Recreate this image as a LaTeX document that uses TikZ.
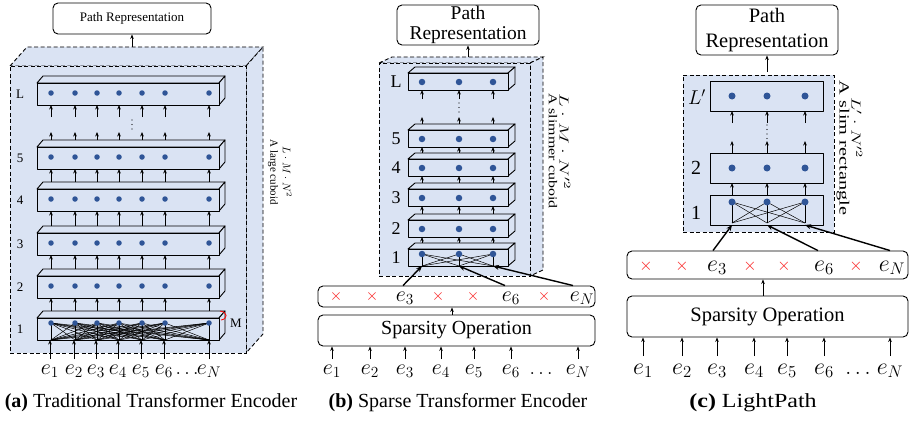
\RequirePackage{fix-cm}
\documentclass[tikz,border=0pt]{standalone}
\usepackage{fontspec}
\setmainfont{Liberation Serif}
\usepackage{graphicx}
\usetikzlibrary{arrows.meta,calc}

\definecolor{bgblue}{RGB}{218,227,243}
\definecolor{dotblue}{RGB}{47,85,151}
\definecolor{xred}{RGB}{250,25,25}

\newcommand{\fsz}[1]{\fontsize{#1}{#1}\selectfont}

% a flat block: front face as a named node, plus its top and side faces
% #1 name, #2 left, #3 top, #4 right, #5 bottom, #6 depth dx, #7 depth dy, #8 style
\newcommand{\slab}[8]{%
  \path[#8] ({#2},{#3}) -- ({#2+#6},{#3-#7}) -- ({#4+#6},{#3-#7}) -- ({#4},{#3}) -- cycle;
  \path[#8] ({#4},{#3}) -- ({#4+#6},{#3-#7}) -- ({#4+#6},{#5-#7}) -- ({#4},{#5}) -- cycle;
  \node[#8, minimum width={(#4-(#2))*1pt}, minimum height={(#5-(#3))*1pt}, anchor=north west] (#1) at ({#2},{#3}) {};
  \coordinate (#1-bk) at ({#2+#6},{#3-#7});
}

\begin{document}
\begin{tikzpicture}[x=1pt,y=-1pt,
  arr/.style={-{Stealth[length=4.5pt,width=3.6pt]}, line width=0.9pt},
  bigarr/.style={-{Stealth[length=6pt,width=5pt]}, line width=1.4pt},
  prbox/.style={draw, rounded corners=5pt, line width=0.9pt, fill=white, inner sep=0pt, align=center},
  hull/.style={draw, dash pattern=on 4pt off 2.5pt, line width=0.9pt, fill=bgblue, inner sep=0pt, outer sep=0pt},
  layer/.style={draw, line width=0.9pt, fill=bgblue, line join=round, inner sep=0pt, outer sep=0pt},
  bead/.style={circle, fill=dotblue, inner sep=0pt, minimum size=#1},
  mesh/.style={line width=0.5pt},
  vdots/.style={line width=1.4pt, line cap=round, dash pattern=on 0pt off 4.5pt},
  elab/.style={anchor=base, inner sep=1pt},
  xm/.style={anchor=base, inner sep=1pt, text=xred},
  note/.style={rotate=-90, inner sep=0pt},
]
\useasboundingbox (0,0) rectangle (912,420);

% ================= (a) traditional encoder =================
\node[prbox, minimum width=158pt, minimum height=31pt, font=\fsz{13}] (aPR) at (132,18.5) {Path Representation};
\slab{aHull}{10}{66}{246}{353}{17}{19}{hull}
\draw[arr] (aPR.south |- aHull-bk) -- (aPR.south);

\foreach \n/\yy in {aL/83,a5/147,a4/189,a3/233,a2/276,a1/318}{
  \slab{\n}{37}{\yy}{219}{\yy+22}{6}{7}{layer}
}
\foreach \n/\yy in {aL/93,a5/157,a4/199,a3/243,a2/286,a1/323}{
  \foreach \x [count=\i] in {51,75,97,119,142,165,209}
    \coordinate (\n-\i) at (\x,\yy);
}
\foreach \lo/\hi in {a1/a2,a2/a3,a3/a4,a4/a5}{
  \foreach \i in {1,...,7}
    \draw[arr] (\lo-\i |- \lo-bk) -- (\lo-\i |- \hi.south);
}
\foreach \i in {1,...,7}{
  \draw[arr] (a5-\i |- a5-bk) -- ++(0,-8);
  \draw[arr] ($(aL-\i |- aL.south)+(0,12)$) -- (aL-\i |- aL.south);
}
\draw[vdots] (132,120) -- (132,131);
\foreach \i in {1,...,7}{
  \foreach \j in {1,...,7}
    \draw[mesh] (a1-\i) -- (a1-\j |- a1.south);
}
\foreach \n in {aL,a5,a4,a3,a2,a1}{
  \foreach \i in {1,...,7}
    \node[bead=5.5pt] (\n-\i b) at (\n-\i) {};
}
\foreach \n/\lab in {aL/L,a5/5,a4/4,a3/3,a2/2,a1/1}
  \node[font=\fsz{13}] (\n-tag) at ([xshift=-17pt]\n.west) {\lab};

\foreach \x/\lab [count=\i] in {50/e_1,74/e_2,96/e_3,118/e_4,141/e_5,164/e_6,209/e_N}
  \node[elab, font=\fsz{22}] (ae\i) at (\x,374) {$\lab$};
\node[elab, font=\fsz{20}] (aed) at (187,374) {$\ldots$};
\foreach \i in {1,...,7}
  \draw[arr] (ae\i.north |- 0,359) -- (ae\i.north |- a1.south);

\draw[red, line width=0.8pt] (220,311) .. controls (228,312) and (228,319) .. (221,320);
\node[font=\fsz{13}] (aM) at (236,323) {M};
\node[note, align=center, font=\fontsize{11}{12.5}\selectfont] (aNote) at (280,172) {$L\cdot M\cdot N^2$\\A large cuboid};
\node[font=\fsz{20}] (aCap) at (151,403) {\textbf{(a)} Traditional Transformer Encoder};

% ================= (b) sparse encoder =================
\node[prbox, minimum width=142pt, minimum height=40pt, font=\fontsize{19.5}{20}\selectfont] (bPR) at (468,25) {Path\\Representation};
\slab{bHull}{379}{63}{530}{276}{13}{6}{hull}
\draw[arr] (bPR.south |- bHull-bk) -- (bPR.south);

\foreach \n/\yy in {bL/73,b5/130,b4/159,b3/189,b2/220,b1/249}{
  \slab{\n}{408}{\yy}{508}{\yy+17}{7}{6}{layer}
}
\foreach \n/\yy in {bL/82,b5/139,b4/168,b3/198,b2/229,b1/254}{
  \foreach \x [count=\i] in {422,459,493}
    \coordinate (\n-\i) at (\x,\yy);
}
\foreach \lo/\hi in {b1/b2,b2/b3,b3/b4,b4/b5}{
  \foreach \i in {1,2,3}
    \draw[arr] (\lo-\i |- \lo-bk) -- (\lo-\i |- \hi.south);
}
\foreach \i in {1,2,3}{
  \draw[arr] (b5-\i |- b5-bk) -- ++(0,-7);
  \draw[arr] ($(bL-\i |- bL.south)+(0,9)$) -- (bL-\i |- bL.south);
}
\draw[vdots] (459,103) -- (459,115);
\foreach \i in {1,2,3}{
  \foreach \j in {1,2,3}
    \draw[mesh] (b1-\i) -- (b1-\j |- b1.south);
}
\foreach \n in {bL,b5,b4,b3,b2,b1}{
  \foreach \i in {1,2,3}
    \node[bead=6.5pt] (\n-\i b) at (\n-\i) {};
}
\foreach \n/\lab in {bL/L,b5/5,b4/4,b3/3,b2/2,b1/1}
  \node[font=\fsz{18}] (\n-tag) at ([xshift=-12pt]\n.west) {\lab};

\node[prbox, minimum width=277pt, minimum height=21pt] (bSp) at (456.5,296.5) {};
\foreach \x [count=\i] in {336,372,438,473,544}
  \node[xm, font=\fsz{16}] (bx\i) at (\x,300.5) {$\times$};
\node[elab, font=\fsz{22}] (bs3) at (405,301) {$e_3$};
\node[elab, font=\fsz{22}] (bs6) at (511,301) {$e_6$};
\node[elab, font=\fsz{22}] (bsN) at (582,301) {$e_N$};
\draw[bigarr] ($(bs3 |- bSp.north)+(-2,0)$) -- (b1-1 |- b1.south);
\draw[bigarr] ($(bs6 |- bSp.north)+(-6,0)$) -- (b1-2 |- b1.south);
\draw[bigarr] ($(bsN |- bSp.north)+(-9,0)$) -- (b1-3 |- b1.south);

\node[prbox, minimum width=277pt, minimum height=31pt, font=\fsz{20}] (bOp) at (456.5,330.5) {Sparsity Operation};
\draw[arr] ([xshift=-4.5pt]bOp.north) -- ([xshift=-4.5pt]bSp.south);

\foreach \x/\lab [count=\i] in {332/e_1,370/e_2,405/e_3,441/e_4,474/e_5,511/e_6,578/e_N}
  \node[elab, font=\fsz{22}] (be\i) at (\x,374) {$\lab$};
\node[elab, font=\fsz{20}] (bed) at (541,374) {$\ldots$};
\foreach \i in {1,...,7}
  \draw[arr] (be\i.north |- 0,359) -- (be\i.north |- bOp.south);

\node[note, anchor=west, font=\fsz{13}] (bNote1) at (565,93) {\scalebox{1.6}[1]{$L\cdot M\cdot N'^2$}};
\node[note, anchor=west, font=\fsz{12}] (bNote2) at (553,93) {\scalebox{1.33}[1]{A slimmer cuboid}};
\node[font=\fsz{20}] (bCap) at (458,403) {\textbf{(b)} Sparse Transformer Encoder};

% ================= (c) LightPath =================
\node[prbox, minimum width=142pt, minimum height=50pt, font=\fontsize{20.5}{25}\selectfont] (cPR) at (767,30) {Path\\Representation};
\node[hull, minimum width=151pt, minimum height=157pt] (cHull) at (758.5,153.5) {};
\draw[arr] ([yshift=3pt]cPR.south |- cHull.north) -- (cPR.south);

\node[layer, minimum width=113pt, minimum height=30pt, anchor=north west] (cL) at (710,81) {};
\node[layer, minimum width=113pt, minimum height=30pt, anchor=north west] (c2) at (710,153) {};
\node[layer, minimum width=113pt, minimum height=30pt, anchor=north west] (c1) at (710,195) {};
\foreach \n/\yy in {cL/96,c2/168,c1/202}{
  \foreach \x [count=\i] in {732,767,805}
    \coordinate (\n-\i) at (\x,\yy);
}
\foreach \i in {1,2,3}{
  \draw[arr] ($(cL-\i |- cL.south)+(0,12)$) -- (cL-\i |- cL.south);
  \draw[arr] (c2-\i |- c2.north) -- ++(0,-12);
  \draw[arr] (c1-\i |- c1.north) -- (c1-\i |- c2.south);
}
\draw[vdots] (767,125) -- (767,139);
\foreach \i in {1,2,3}{
  \foreach \j in {1,2,3}
    \draw[mesh] (c1-\i) -- ($(c1-\j |- c1.south)+(0,-2)$);
}
\foreach \n in {cL,c2,c1}{
  \foreach \i in {1,2,3}
    \node[bead=7pt] (\n-\i b) at (\n-\i) {};
}
\node[font=\fsz{20}] (cL-tag) at (697,97) {$L'$};
\node[font=\fsz{20}] (c2-tag) at (696,168) {2};
\node[font=\fsz{20}] (c1-tag) at (696,213) {1};

\node[prbox, minimum width=281pt, minimum height=28pt] (cSp) at (767.5,265) {};
\foreach \x [count=\i] in {646,682,750,784,856}
  \node[xm, font=\fsz{17}] (cx\i) at (\x,270.5) {$\times$};
\node[elab, font=\fsz{24}] (cs3) at (717,271) {$e_3$};
\node[elab, font=\fsz{24}] (cs6) at (824,271) {$e_6$};
\node[elab, font=\fsz{24}] (csN) at (892,271) {$e_N$};
\draw[bigarr] ($(cs3 |- cSp.north)+(-4,0)$) -- (c1-1 |- c1.south);
\draw[bigarr] ($(cs6 |- cSp.north)+(-6,0)$) -- (c1-2 |- c1.south);
\draw[bigarr] ($(csN |- cSp.north)+(-2,0)$) -- (c1-3 |- c1.south);

\node[prbox, minimum width=281pt, minimum height=41pt, font=\fsz{20.5}] (cOp) at (767.5,316.5) {Sparsity Operation};
\draw[arr] ([xshift=-4.5pt]cOp.north) -- ([xshift=-4.5pt]cSp.south);

\foreach \x/\lab [count=\i] in {643/e_1,682/e_2,717/e_3,754/e_4,787/e_5,824/e_6,890/e_N}
  \node[elab, font=\fsz{24}] (ce\i) at (\x,374) {$\lab$};
\node[elab, font=\fsz{22}] (ced) at (858,374) {$\ldots$};
\foreach \i in {1,...,7}
  \draw[arr] (ce\i.north |- 0,356) -- (ce\i.north |- cOp.south);

\node[note, font=\fsz{13}] (cNote1) at (857,128) {\scalebox{1.5}[1]{$L'\cdot N'^2$}};
\node[note, font=\fsz{14}] (cNote2) at (843,148) {\scalebox{1.45}[1]{A slim rectangle}};
\node[font=\fsz{20}] (cCap) at (753,403) {\scalebox{1.2}[1]{\textbf{(c)} LightPath}};
\end{tikzpicture}
\end{document}
